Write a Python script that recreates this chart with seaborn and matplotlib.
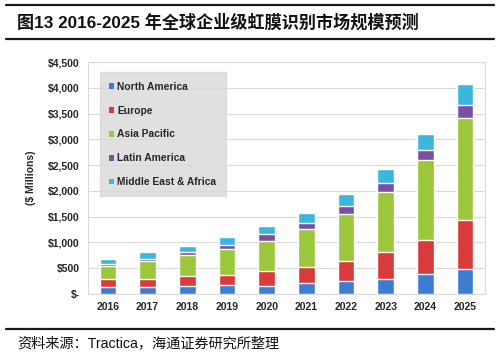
import numpy as np
import pandas as pd
import matplotlib
matplotlib.use("Agg")
import matplotlib.pyplot as plt
from matplotlib.ticker import FuncFormatter
from matplotlib.patches import Patch
import seaborn as sns

years = ['2016', '2017', '2018', '2019', '2020', '2021', '2022', '2023', '2024', '2025']
regions = ['North America', 'Europe', 'Asia Pacific', 'Latin America', 'Middle East & Africa']
north_america = [130, 130, 150, 165, 160, 205, 257, 290, 387, 484]
europe = [154, 167, 198, 213, 277, 310, 387, 515, 657, 947]
asia_pacific = [257, 341, 406, 497, 594, 742, 915, 1180, 1548, 1985]
latin_america = [39, 39, 64, 76, 129, 116, 149, 162, 193, 259]
mea = [91, 134, 110, 148, 161, 194, 226, 282, 321, 400]
colors = ['#3d7dd1', '#d93a3c', '#9cc63b', '#7b4fa3', '#3bb6dc']

sns.set_style("white")
plt.rcParams['font.family'] = ['Liberation Sans', 'Noto Sans CJK SC', 'DejaVu Sans']

df = pd.DataFrame({'year': years, 'North America': north_america, 'Europe': europe,
                   'Asia Pacific': asia_pacific, 'Latin America': latin_america,
                   'Middle East & Africa': mea})
# cumulative tops for stacking
cum = df[regions].cumsum(axis=1)

fig = plt.figure(figsize=(5, 3.55), dpi=100)
ax = fig.add_axes([88/500, 1-294/355, 397/500, 232/355])

# draw tallest layer first, lower layers on top
for reg, col in zip(regions[::-1], colors[::-1]):
    sns.barplot(x=df['year'], y=cum[reg], color=col, width=0.42, ax=ax,
                saturation=1, zorder=3)

ax.set_ylim(0, 4500)
ax.set_xlim(-0.5, 9.5)
ax.set_yticks(np.arange(0, 4501, 500))
ax.yaxis.set_major_formatter(FuncFormatter(lambda v, p: '$-' if v == 0 else f'${int(v):,}'))
ax.grid(axis='y', color='#dadada', linewidth=0.8, zorder=0)
ax.set_axisbelow(True)
for s in ax.spines.values():
    s.set_color('#dadada')
    s.set_linewidth(0.8)
ax.tick_params(axis='both', length=0, labelsize=7.5, colors='#262626', pad=6)
for lab in ax.get_xticklabels() + ax.get_yticklabels():
    lab.set_fontweight('bold')
ax.set_xlabel('')
ax.set_ylabel('($ Millions)', fontsize=7.5, fontweight='bold', color='#262626', labelpad=9)

handles = [Patch(facecolor=c, edgecolor='none') for c in colors]
leg = ax.legend(handles, regions, loc='upper left', bbox_to_anchor=(0.03, 0.955),
                fontsize=7.4, frameon=True, fancybox=False, labelspacing=1.35,
                handlelength=0.5, handleheight=0.5, handletextpad=0.3,
                borderpad=0.9, borderaxespad=0)
leg.get_frame().set_facecolor('#d9d9d9')
leg.get_frame().set_edgecolor('#d9d9d9')
for t in leg.get_texts():
    t.set_fontweight('bold')
    t.set_color('#262626')

# title and source, with rules
fig.add_artist(plt.Line2D([6/500, 494/500], [1-5/355, 1-5/355], color='#1a1a1a', lw=1.6))
fig.add_artist(plt.Line2D([6/500, 494/500], [1-39/355, 1-39/355], color='#1a1a1a', lw=1.6))
fig.add_artist(plt.Line2D([6/500, 494/500], [1-329/355, 1-329/355], color='#1a1a1a', lw=1.6))
fig.text(17/500, 1-22/355, '图13 2016-2025 年全球企业级虹膜识别市场规模预测', fontsize=12.3,
         fontweight='bold', va='center', ha='left', color='#111111',
         family=['Liberation Sans', 'Noto Sans CJK SC'])
fig.text(17/500, 1-343/355, '资料来源：Tractica，海通证券研究所整理', fontsize=10.2,
         va='center', ha='left', color='#111111',
         family=['Liberation Sans', 'Noto Sans CJK SC'])

fig.savefig('out.png', dpi=100)
